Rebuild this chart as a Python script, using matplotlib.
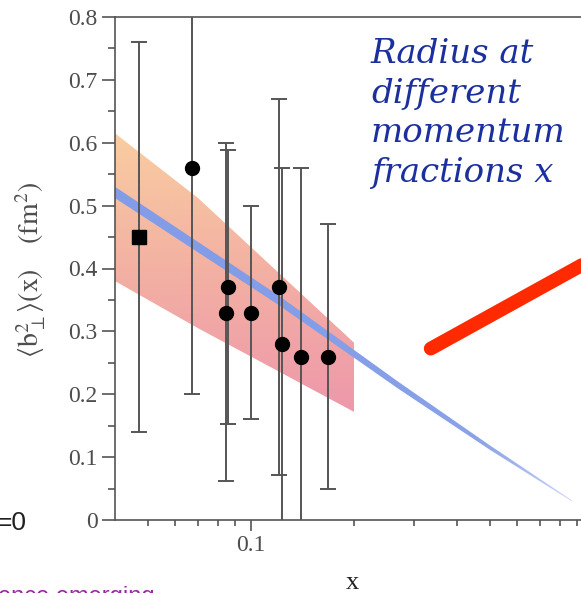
import numpy as np
import matplotlib.pyplot as plt
from matplotlib.patches import Polygon
from matplotlib.lines import Line2D
from matplotlib.colors import LinearSegmentedColormap
from matplotlib.ticker import FixedLocator, FixedFormatter, NullFormatter

# measured points: x, central value and error bar ends
x_pts = [0.0471, 0.0672, 0.0843, 0.0857, 0.100, 0.1208, 0.1234, 0.140, 0.1675]
y_pts = [0.45, 0.56, 0.33, 0.37, 0.33, 0.37, 0.28, 0.26, 0.26]
y_lo = [0.14, 0.20, 0.062, 0.152, 0.16, 0.071, -0.01, -0.04, 0.05]
y_hi = [0.76, 0.92, 0.60, 0.589, 0.50, 0.67, 0.56, 0.56, 0.47]

# orange/pink model band
band_x = [0.04, 0.07, 0.2]
band_lo = [0.380, 0.305, 0.172]
band_hi = [0.615, 0.512, 0.282]

# thin blue band (centre and half width)
line_x = [0.04, 0.12, 0.27, 0.5, 0.87]
line_c = [0.521, 0.350, 0.214, 0.115, 0.030]
line_hw = [0.009, 0.0075, 0.0055, 0.0035, 0.0008]

y_ticks = [0, 0.1, 0.2, 0.3, 0.4, 0.5, 0.6, 0.7, 0.8]
y_ticklabels = ["0", "0.1", "0.2", "0.3", "0.4", "0.5", "0.6", "0.7", "0.8"]

note_lines = ["Radius at", "different", "momentum", "fractions x"]

W, H = 581, 593
GREY = "#4d4d4d"
plt.rcParams["mathtext.fontset"] = "stix"


def gradient_fill(ax, x, lo, hi, colors, vertical=True, zorder=1):
    """Fill between lo and hi with a colour gradient clipped to the band."""
    verts = list(zip(x, hi)) + list(zip(x[::-1], lo[::-1]))
    poly = Polygon(verts, closed=True, facecolor="none", edgecolor="none")
    ax.add_patch(poly)
    cmap = LinearSegmentedColormap.from_list("g", colors)
    if vertical:
        grad = np.linspace(1, 0, 256).reshape(-1, 1)
    else:
        grad = np.linspace(0, 1, 256).reshape(1, -1)
    im = ax.imshow(grad, cmap=cmap, aspect="auto", origin="upper",
                   extent=[min(x), max(x), min(lo), max(hi)],
                   interpolation="bilinear", zorder=zorder)
    im.set_clip_path(poly)


fig = plt.figure(figsize=(W / 100, H / 100), dpi=100)
ax = fig.add_axes([115 / W, 1 - 520 / H, 478 / W, 503 / H])
ax.set_xscale("log")

gradient_fill(ax, band_x, band_lo, band_hi,
              ["#ee98ab", "#f3b0a3", "#f9cda1"], vertical=True, zorder=1)

lc = np.array(line_c)
lhw = np.array(line_hw)
gradient_fill(ax, line_x, list(lc - lhw), list(lc + lhw),
              ["#829ce8", "#8aa3e8", "#d2dbf4"], vertical=False, zorder=2)

yp = np.array(y_pts)
err = [yp - np.array(y_lo), np.array(y_hi) - yp]
ax.errorbar(x_pts, y_pts, yerr=err, fmt="none", ecolor="#555555",
            elinewidth=1.4, capsize=6, capthick=1.4, zorder=3)
ax.plot(x_pts[:1], y_pts[:1], "s", color="black", ms=10, zorder=4)
ax.plot(x_pts[1:], y_pts[1:], "o", color="black", ms=10, zorder=4)

ax.set_xlim(0.04, 1.0)
ax.set_ylim(0, 0.8)

ax.xaxis.set_major_locator(FixedLocator([0.1]))
ax.xaxis.set_major_formatter(FixedFormatter(["0.1"]))
ax.xaxis.set_minor_locator(FixedLocator([0.05, 0.06, 0.07, 0.08, 0.09,
                                         0.2, 0.3, 0.4, 0.5, 0.6, 0.7, 0.8, 0.9]))
ax.xaxis.set_minor_formatter(NullFormatter())
ax.set_yticks(y_ticks)
ax.set_yticklabels(y_ticklabels)
ax.set_yticks(np.arange(0.05, 0.8, 0.1), minor=True)

for s in ["left", "bottom", "top", "right"]:
    ax.spines[s].set_color("#555555")
    ax.spines[s].set_linewidth(1.2)
ax.tick_params(which="both", direction="out", color="#555555", width=1.2,
               labelcolor=GREY, top=False, right=False)
ax.tick_params(axis="y", which="major", length=9.5, pad=3)
ax.tick_params(axis="y", which="minor", length=5)
ax.tick_params(axis="x", which="major", length=8, pad=3)
ax.tick_params(axis="x", which="minor", length=4)
for lab in ax.get_xticklabels() + ax.get_yticklabels():
    lab.set_fontfamily("Liberation Serif")
    lab.set_fontsize(17)

fig.text(31 / W, 1 - 270 / H,
         r"$\langle\mathrm{b}_{\perp}^{2}\rangle\mathrm{(x)}\quad\;\mathrm{(fm^{2})}$",
         rotation=90, ha="center", va="center", fontsize=20, color=GREY)
fig.text(352 / W, 1 - 583 / H, "x", ha="center", va="center",
         fontsize=19, family="Liberation Serif", color="#222222")

# slide annotations around the chart
for i, line in enumerate(note_lines):
    fig.text(371 / W, 1 - (63 + 39.7 * i) / H, line,
             ha="left", va="baseline", fontsize=24.5, family="DejaVu Serif",
             style="italic", color="#1b2f9e")
fig.text(27 / W, 1 - 530 / H, "=0", ha="right", va="baseline",
         fontsize=19, family="Liberation Sans", color="#222222")
fig.text(-2 / W, 1 - 603 / H, "ence emerging", ha="left", va="baseline",
         fontsize=17, family="Liberation Sans", color="#952a9e")
fig.add_artist(Line2D([430.7 / W, 620 / W], [1 - 348.6 / H, 1 - 244 / H],
                      transform=fig.transFigure, color="#ff2a00", lw=9.9,
                      solid_capstyle="round"))

fig.savefig("out.png", dpi=100)
